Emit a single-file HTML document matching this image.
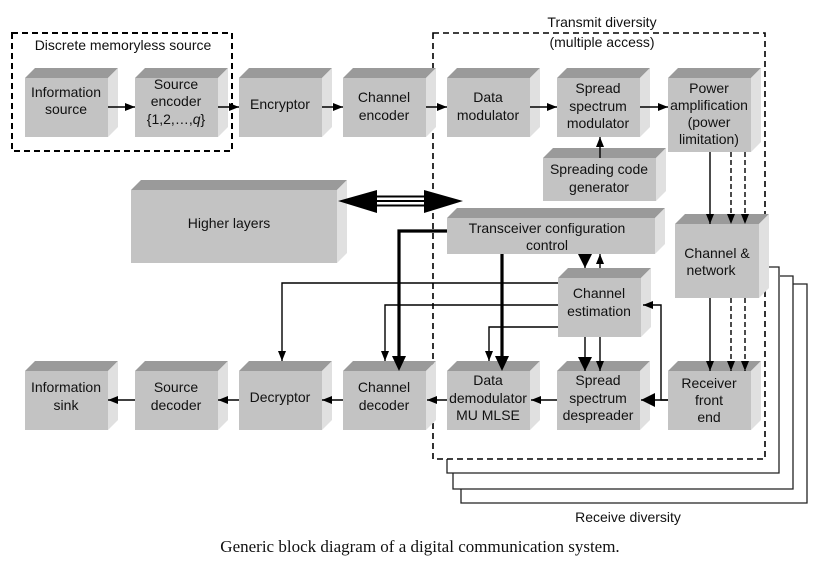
<!DOCTYPE html>
<html><head><meta charset="utf-8"><style>
html,body{margin:0;padding:0;background:#fff;}
svg{display:block;}
text{font-family:"Liberation Sans",sans-serif;font-size:14px;fill:#111;}
</style></head><body>
<svg width="825" height="561" viewBox="0 0 825 561" xmlns="http://www.w3.org/2000/svg">
<defs>
<marker id="a" markerWidth="10" markerHeight="8" refX="10" refY="4" orient="auto" markerUnits="userSpaceOnUse"><path d="M0,0 L10,4 L0,8 z" fill="#000"/></marker>
<marker id="b" markerWidth="14" markerHeight="14" refX="14" refY="7" orient="auto" markerUnits="userSpaceOnUse"><path d="M0,0 L14,7 L0,14 z" fill="#000"/></marker>
</defs>
<!-- stacked receive diversity outlines -->
<g fill="none" stroke="#222" stroke-width="1.3">
<polyline points="793,284 807,284 807,503 461,503 461,489"/>
<polyline points="780,276 793,276 793,489 453,489 453,473"/>
<polyline points="765,267 779,267 779,473 447,473 447,459"/>
</g>
<!-- dashed boxes -->
<rect x="12" y="33" width="220" height="118" fill="none" stroke="#000" stroke-width="2" stroke-dasharray="6,4"/>
<rect x="433" y="33" width="332" height="426" fill="none" stroke="#000" stroke-width="1.6" stroke-dasharray="6,4"/>
<text x="123" y="50" text-anchor="middle">Discrete memoryless source</text>
<text x="602" y="27" text-anchor="middle">Transmit diversity</text>
<text x="602" y="47" text-anchor="middle">(multiple access)</text>
<text x="628" y="522" text-anchor="middle">Receive diversity</text>
<text x="420" y="552" text-anchor="middle" style="font-family:'Liberation Serif',serif;font-size:17px">Generic block diagram of a digital communication system.</text>

<!-- boxes -->
<g id="boxes">
<!-- macro: top, side, front -->
</g>
<g stroke="none">
<!-- helper drawn manually -->
</g>
<g>
<!-- Box template: x y w h -->
</g>
<g id="bx"></g>
<g>
<!-- Row 1 -->
<polygon points="25,78 35,68 118,68 108,78" fill="#9a9a9a"/><polygon points="108,78 118,68 118,127 108,137" fill="#e0e0e0"/><rect x="25" y="78" width="83" height="59" fill="#c3c3c3"/>
<polygon points="135,78 145,68 228,68 218,78" fill="#9a9a9a"/><polygon points="218,78 228,68 228,127 218,137" fill="#e0e0e0"/><rect x="135" y="78" width="83" height="59" fill="#c3c3c3"/>
<polygon points="239,78 249,68 332,68 322,78" fill="#9a9a9a"/><polygon points="322,78 332,68 332,127 322,137" fill="#e0e0e0"/><rect x="239" y="78" width="83" height="59" fill="#c3c3c3"/>
<polygon points="343,78 353,68 436,68 426,78" fill="#9a9a9a"/><polygon points="426,78 436,68 436,127 426,137" fill="#e0e0e0"/><rect x="343" y="78" width="83" height="59" fill="#c3c3c3"/>
<polygon points="447,78 457,68 540,68 530,78" fill="#9a9a9a"/><polygon points="530,78 540,68 540,127 530,137" fill="#e0e0e0"/><rect x="447" y="78" width="83" height="59" fill="#c3c3c3"/>
<polygon points="557,78 567,68 650,68 640,78" fill="#9a9a9a"/><polygon points="640,78 650,68 650,127 640,137" fill="#e0e0e0"/><rect x="557" y="78" width="83" height="59" fill="#c3c3c3"/>
<polygon points="668,78 678,68 761,68 751,78" fill="#9a9a9a"/><polygon points="751,78 761,68 761,142 751,152" fill="#e0e0e0"/><rect x="668" y="78" width="83" height="74" fill="#c3c3c3"/>
<!-- spreading code gen -->
<polygon points="543,158 553,148 666,148 656,158" fill="#9a9a9a"/><polygon points="656,158 666,148 666,191 656,201" fill="#e0e0e0"/><rect x="543" y="158" width="113" height="43" fill="#c3c3c3"/>
<!-- higher layers -->
<polygon points="131,190 141,180 347,180 337,190" fill="#9a9a9a"/><polygon points="337,190 347,180 347,253 337,263" fill="#e0e0e0"/><rect x="131" y="190" width="206" height="73" fill="#c3c3c3"/>
<!-- transceiver -->
<polygon points="447,218 457,208 665,208 655,218" fill="#9a9a9a"/><polygon points="655,218 665,208 665,244 655,254" fill="#e0e0e0"/><rect x="447" y="218" width="208" height="36" fill="#c3c3c3"/>
<!-- channel & network -->
<polygon points="675,224 685,214 769,214 759,224" fill="#9a9a9a"/><polygon points="759,224 769,214 769,288 759,298" fill="#e0e0e0"/><rect x="675" y="224" width="84" height="74" fill="#c3c3c3"/>
<!-- channel estimation -->
<polygon points="558,278 568,268 651,268 641,278" fill="#9a9a9a"/><polygon points="641,278 651,268 651,327 641,337" fill="#e0e0e0"/><rect x="558" y="278" width="83" height="59" fill="#c3c3c3"/>
<!-- bottom row -->
<polygon points="25,371 35,361 118,361 108,371" fill="#9a9a9a"/><polygon points="108,371 118,361 118,420 108,430" fill="#e0e0e0"/><rect x="25" y="371" width="83" height="59" fill="#c3c3c3"/>
<polygon points="135,371 145,361 228,361 218,371" fill="#9a9a9a"/><polygon points="218,371 228,361 228,420 218,430" fill="#e0e0e0"/><rect x="135" y="371" width="83" height="59" fill="#c3c3c3"/>
<polygon points="239,371 249,361 332,361 322,371" fill="#9a9a9a"/><polygon points="322,371 332,361 332,420 322,430" fill="#e0e0e0"/><rect x="239" y="371" width="83" height="59" fill="#c3c3c3"/>
<polygon points="343,371 353,361 436,361 426,371" fill="#9a9a9a"/><polygon points="426,371 436,361 436,420 426,430" fill="#e0e0e0"/><rect x="343" y="371" width="83" height="59" fill="#c3c3c3"/>
<polygon points="447,371 457,361 540,361 530,371" fill="#9a9a9a"/><polygon points="530,371 540,361 540,420 530,430" fill="#e0e0e0"/><rect x="447" y="371" width="83" height="59" fill="#c3c3c3"/>
<polygon points="557,371 567,361 650,361 640,371" fill="#9a9a9a"/><polygon points="640,371 650,361 650,420 640,430" fill="#e0e0e0"/><rect x="557" y="371" width="83" height="59" fill="#c3c3c3"/>
<polygon points="668,371 678,361 761,361 751,371" fill="#9a9a9a"/><polygon points="751,371 761,361 761,420 751,430" fill="#e0e0e0"/><rect x="668" y="371" width="83" height="59" fill="#c3c3c3"/>
</g>
<!-- labels -->
<g text-anchor="middle">
<text x="66" y="97">Information</text><text x="66" y="114">source</text>
<text x="176" y="89">Source</text><text x="176" y="106">encoder</text><text x="176" y="124">{1,2,…,<tspan font-style="italic">q</tspan>}</text>
<text x="280" y="109">Encryptor</text>
<text x="384" y="102">Channel</text><text x="384" y="120">encoder</text>
<text x="488" y="102">Data</text><text x="488" y="120">modulator</text>
<text x="598" y="93">Spread</text><text x="598" y="111">spectrum</text><text x="598" y="128">modulator</text>
<text x="709" y="93">Power</text><text x="709" y="110">amplification</text><text x="709" y="127">(power</text><text x="709" y="144">limitation)</text>
<text x="599" y="174">Spreading code</text><text x="599" y="192">generator</text>
<text x="229" y="228">Higher layers</text>
<text x="547" y="233">Transceiver configuration</text><text x="547" y="250">control</text>
<text x="717" y="258">Channel &amp;</text><text x="711" y="275">network</text>
<text x="599" y="298">Channel</text><text x="599" y="316">estimation</text>
<text x="66" y="392">Information</text><text x="66" y="410">sink</text>
<text x="176" y="392">Source</text><text x="176" y="410">decoder</text>
<text x="280" y="402">Decryptor</text>
<text x="384" y="392">Channel</text><text x="384" y="410">decoder</text>
<text x="488" y="385">Data</text><text x="488" y="403">demodulator</text><text x="488" y="420">MU MLSE</text>
<text x="598" y="385">Spread</text><text x="598" y="403">spectrum</text><text x="598" y="420">despreader</text>
<text x="709" y="388">Receiver</text><text x="709" y="405">front</text><text x="709" y="422">end</text>
</g>
<!-- arrows -->
<g stroke="#000" stroke-width="1.4" fill="none">
<line x1="108" y1="107" x2="135" y2="107" marker-end="url(#a)"/>
<line x1="218" y1="107" x2="239" y2="107" marker-end="url(#a)"/>
<line x1="322" y1="107" x2="343" y2="107" marker-end="url(#a)"/>
<line x1="426" y1="107" x2="447" y2="107" marker-end="url(#a)"/>
<line x1="530" y1="107" x2="557" y2="107" marker-end="url(#a)"/>
<line x1="640" y1="107" x2="668" y2="107" marker-end="url(#a)"/>
<line x1="600" y1="158" x2="600" y2="137" marker-end="url(#a)"/>
<line x1="710" y1="152" x2="710" y2="224" marker-end="url(#a)"/>
<line x1="731" y1="152" x2="731" y2="224" stroke-dasharray="5,3" marker-end="url(#a)"/>
<line x1="745" y1="152" x2="745" y2="224" stroke-dasharray="5,3" marker-end="url(#a)"/>
<line x1="710" y1="298" x2="710" y2="371" marker-end="url(#a)"/>
<line x1="731" y1="298" x2="731" y2="371" stroke-dasharray="5,3" marker-end="url(#a)"/>
<line x1="745" y1="298" x2="745" y2="371" stroke-dasharray="5,3" marker-end="url(#a)"/>
<line x1="668" y1="400" x2="641" y2="400" marker-end="url(#b)"/>
<polyline points="668,400 661,400 661,305 643,305" marker-end="url(#a)"/>
<line x1="557" y1="400" x2="531" y2="400" marker-end="url(#a)"/>
<line x1="447" y1="400" x2="427" y2="400" marker-end="url(#a)"/>
<line x1="343" y1="400" x2="322" y2="400" marker-end="url(#a)"/>
<line x1="239" y1="400" x2="218" y2="400" marker-end="url(#a)"/>
<line x1="135" y1="400" x2="108" y2="400" marker-end="url(#a)"/>
<line x1="585" y1="337" x2="585" y2="371" marker-end="url(#b)"/>
<line x1="600" y1="337" x2="600" y2="371" marker-end="url(#a)"/>
<line x1="585" y1="254" x2="585" y2="268" marker-end="url(#b)"/>
<line x1="600" y1="268" x2="600" y2="254" marker-end="url(#a)"/>
<polyline points="558,283 282,283 282,361" marker-end="url(#a)"/>
<polyline points="558,305 385,305 385,361" marker-end="url(#a)"/>
<polyline points="558,327 489,327 489,361" marker-end="url(#a)"/>
</g>
<g stroke="#000" stroke-width="3.2" fill="none">
<polyline points="447,231 399,231 399,358"/>
<line x1="502" y1="254" x2="502" y2="358"/>
</g>
<polygon points="392,356 406,356 399,371" fill="#000"/>
<polygon points="495,356 509,356 502,371" fill="#000"/>
<!-- double arrow -->
<g stroke="#000" stroke-width="2">
<line x1="375" y1="196.5" x2="427" y2="196.5"/>
<line x1="375" y1="201" x2="427" y2="201"/>
<line x1="375" y1="205.5" x2="427" y2="205.5"/>
</g>
<polygon points="338,201 377,190 377,213" fill="#000"/>
<polygon points="463,201 424,190 424,213" fill="#000"/>
</svg>
</body></html>
